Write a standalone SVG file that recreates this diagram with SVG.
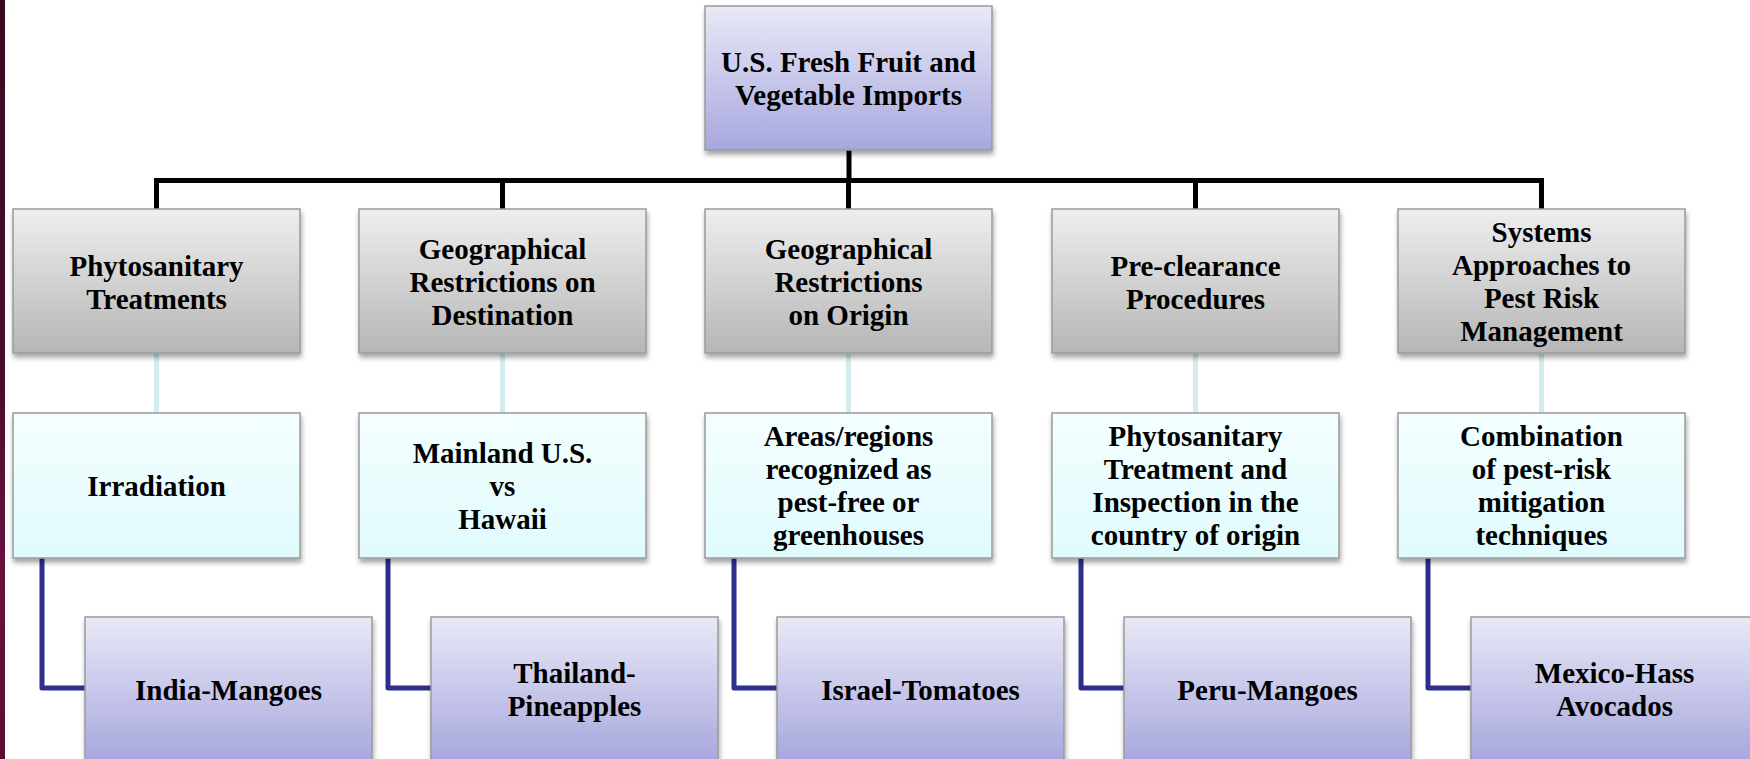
<svg xmlns="http://www.w3.org/2000/svg" width="1750" height="759" viewBox="0 0 1750 759">
<defs>
<linearGradient id="gGray" x1="0" y1="0" x2="0" y2="1"><stop offset="0" stop-color="#eeeeee"/><stop offset="1" stop-color="#b6b6b6"/></linearGradient>
<linearGradient id="gLav" x1="0" y1="0" x2="0" y2="1"><stop offset="0" stop-color="#e9e9f7"/><stop offset="1" stop-color="#a7a7de"/></linearGradient>
<linearGradient id="gCyan" x1="0" y1="0" x2="0" y2="1"><stop offset="0" stop-color="#f4feff"/><stop offset="1" stop-color="#e0fbfd"/></linearGradient>
<linearGradient id="gStrip" x1="0" y1="0" x2="0" y2="1"><stop offset="0" stop-color="#3a0a20"/><stop offset="0.5" stop-color="#4a0c2a"/><stop offset="0.75" stop-color="#6a1040"/><stop offset="1" stop-color="#5a0e36"/></linearGradient>
<filter id="sh" x="-5%" y="-5%" width="115%" height="120%"><feDropShadow dx="1" dy="4" stdDeviation="2.5" flood-color="#000" flood-opacity="0.35"/></filter>
<style>
.box{stroke:#9a9a9a;stroke-width:1.5;filter:url(#sh)}
.gray{fill:url(#gGray)}
.lav{fill:url(#gLav)}
.cyan{fill:url(#gCyan)}
text{font-family:"Liberation Serif","Times New Roman",serif;font-weight:bold;font-size:29px;fill:#000;text-anchor:middle}
.blk{stroke:#000;stroke-width:5;fill:none}
.lc{stroke:#d3ecee;stroke-width:5;fill:none}
.nv{stroke:#2e2e8c;stroke-width:5;fill:none;stroke-linejoin:round}
</style>
</defs>
<rect x="0" y="0" width="1750" height="759" fill="#ffffff"/>
<rect x="0" y="0" width="5" height="759" fill="url(#gStrip)"/>
<g id="connectors">
<path class="blk" d="M849 150 V180.5 M156.5 209 V180.5 H1541.5 V209 M502.5 180.5 V209 M848.5 180.5 V209 M1195.5 180.5 V209"/>
<path class="lc" d="M156.5 353 V413 M502.5 353 V413 M848.5 353 V413 M1195.5 353 V413 M1541.5 353 V413"/>
<path class="nv" d="M42 558 V688 H86 M388 558 V688 H432 M734 558 V688 H778 M1081 558 V688 H1125 M1428 558 V688 H1472"/>
</g>
<g id="root"><rect class="box lav" x="705" y="6" width="287" height="144"/><text x="848.5" y="72">U.S. Fresh Fruit and</text><text x="848.5" y="105">Vegetable Imports</text></g>

<g id="n1"><rect class="box gray" x="13" y="209" width="287" height="144"/><text x="156.5" y="276">Phytosanitary</text><text x="156.5" y="309">Treatments</text></g>
<g id="n2"><rect class="box gray" x="359" y="209" width="287" height="144"/><text x="502.5" y="259">Geographical</text><text x="502.5" y="292">Restrictions on</text><text x="502.5" y="325">Destination</text></g>
<g id="n3"><rect class="box gray" x="705" y="209" width="287" height="144"/><text x="848.5" y="259">Geographical</text><text x="848.5" y="292">Restrictions</text><text x="848.5" y="325">on Origin</text></g>
<g id="n4"><rect class="box gray" x="1052" y="209" width="287" height="144"/><text x="1195.5" y="276">Pre-clearance</text><text x="1195.5" y="309">Procedures</text></g>
<g id="n5"><rect class="box gray" x="1398" y="209" width="287" height="144"/><text x="1541.5" y="242">Systems</text><text x="1541.5" y="275">Approaches to</text><text x="1541.5" y="308">Pest Risk</text><text x="1541.5" y="341">Management</text></g>

<g id="m1"><rect class="box cyan" x="13" y="413" width="287" height="145"/><text x="156.5" y="496">Irradiation</text></g>
<g id="m2"><rect class="box cyan" x="359" y="413" width="287" height="145"/><text x="502.5" y="463">Mainland U.S.</text><text x="502.5" y="496">vs</text><text x="502.5" y="529">Hawaii</text></g>
<g id="m3"><rect class="box cyan" x="705" y="413" width="287" height="145"/><text x="848.5" y="446">Areas/regions</text><text x="848.5" y="479">recognized as</text><text x="848.5" y="512">pest-free or</text><text x="848.5" y="545">greenhouses</text></g>
<g id="m4"><rect class="box cyan" x="1052" y="413" width="287" height="145"/><text x="1195.5" y="446">Phytosanitary</text><text x="1195.5" y="479">Treatment and</text><text x="1195.5" y="512">Inspection in the</text><text x="1195.5" y="545">country of origin</text></g>
<g id="m5"><rect class="box cyan" x="1398" y="413" width="287" height="145"/><text x="1541.5" y="446">Combination</text><text x="1541.5" y="479">of pest-risk</text><text x="1541.5" y="512">mitigation</text><text x="1541.5" y="545">techniques</text></g>

<g id="e1"><rect class="box lav" x="85" y="617" width="287" height="144"/><text x="228.5" y="700">India-Mangoes</text></g>
<g id="e2"><rect class="box lav" x="431" y="617" width="287" height="144"/><text x="574.5" y="683">Thailand-</text><text x="574.5" y="716">Pineapples</text></g>
<g id="e3"><rect class="box lav" x="777" y="617" width="287" height="144"/><text x="920.5" y="700">Israel-Tomatoes</text></g>
<g id="e4"><rect class="box lav" x="1124" y="617" width="287" height="144"/><text x="1267.5" y="700">Peru-Mangoes</text></g>
<g id="e5"><rect class="box lav" x="1471" y="617" width="287" height="144"/><text x="1614.5" y="683">Mexico-Hass</text><text x="1614.5" y="716">Avocados</text></g>
</svg>
